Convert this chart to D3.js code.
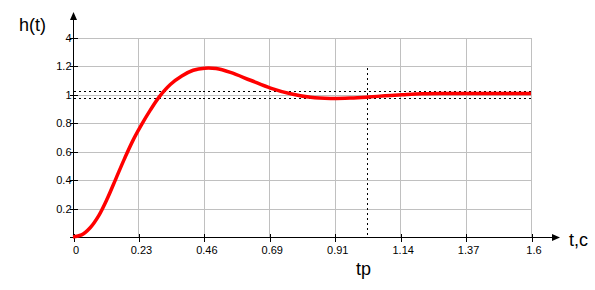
<!DOCTYPE html>
<html lang="en">
<head>
    <meta charset="UTF-8">
    <title>h(t) step response</title>
    <script src="https://d3js.org/d3.v7.min.js"></script>
    <style>
        body, html {
            margin: 0;
            padding: 0;
            overflow: hidden;
            background: #fff;
        }
        svg {
            display: block;
        }
        .tick-label {
            font-family: "Liberation Sans", Arial, sans-serif;
            font-size: 11px;
            fill: #000;
        }
        .title {
            font-family: "Liberation Sans", Arial, sans-serif;
            font-size: 18px;
            fill: #000;
        }
    </style>
</head>
<body>
    <svg width="595" height="290" id="chart"></svg>

    <script>
        // values
        const tValues = [0, 0.03, 0.06, 0.09, 0.12, 0.15, 0.18, 0.21, 0.24, 0.27, 0.30, 0.34, 0.38, 0.42, 0.46, 0.50, 0.55, 0.62, 0.69, 0.76, 0.83, 0.90, 0.97, 1.03, 1.09, 1.15, 1.22, 1.30, 1.6];
        const hValues = [0, 0.015, 0.065, 0.15, 0.27, 0.41, 0.55, 0.68, 0.79, 0.89, 0.98, 1.07, 1.13, 1.17, 1.185, 1.182, 1.155, 1.10, 1.045, 1.005, 0.98, 0.972, 0.975, 0.982, 0.991, 0.998, 1.005, 1.007, 1.007];

        const xTicks = [0, 0.2286, 0.4571, 0.6857, 0.9143, 1.1429, 1.3714, 1.6];
        const xTickLabels = ["0", "0.23", "0.46", "0.69", "0.91", "1.14", "1.37", "1.6"];
        const yTicks = [0, 0.2, 0.4, 0.6, 0.8, 1, 1.2, 1.4];
        const yTickLabels = ["", "0.2", "0.4", "0.6", "0.8", "1", "1.2", "4"];

        const bandLow = 0.975;
        const bandHigh = 1.025;
        const tp = 1.028;
        const tpTop = 1.19;

        const svg = d3.select("#chart");

        const x = d3.scaleLinear().domain([0, 1.6]).range([73, 531]);
        const y = d3.scaleLinear().domain([0, 1.4]).range([237, 37.5]);

        const px = v => Math.round(v) + 0.5;

        // grid
        const grid = svg.append("g")
            .attr("stroke", "#c0c0c0")
            .attr("stroke-width", 1)
            .attr("shape-rendering", "crispEdges");

        grid.selectAll(".vgrid")
            .data(xTicks.slice(1))
            .enter()
            .append("line")
            .attr("x1", d => px(x(d)))
            .attr("x2", d => px(x(d)))
            .attr("y1", px(y(1.4)))
            .attr("y2", px(y(0)));

        grid.selectAll(".hgrid")
            .data(yTicks.slice(1))
            .enter()
            .append("line")
            .attr("x1", px(x(0)))
            .attr("x2", px(x(1.6)))
            .attr("y1", d => px(y(d)))
            .attr("y2", d => px(y(d)));

        // dotted tolerance band and tp marker
        const dots = svg.append("g")
            .attr("stroke", "#000")
            .attr("stroke-width", 1)
            .attr("stroke-dasharray", "2,3")
            .attr("shape-rendering", "crispEdges");

        dots.selectAll(".band")
            .data([bandHigh, bandLow])
            .enter()
            .append("line")
            .attr("x1", px(x(0)))
            .attr("x2", px(x(1.6)))
            .attr("y1", d => px(y(d)))
            .attr("y2", d => px(y(d)));

        dots.append("line")
            .attr("x1", px(x(tp)))
            .attr("x2", px(x(tp)))
            .attr("y1", px(y(tpTop)))
            .attr("y2", px(y(0)));

        // axes
        const xAxis = d3.axisBottom(x)
            .tickValues(xTicks)
            .tickFormat((d, i) => xTickLabels[i])
            .tickSize(4)
            .tickPadding(5);

        const gx = svg.append("g")
            .attr("transform", `translate(0.5, ${px(y(0))})`)
            .call(xAxis);
        gx.select(".domain").remove();
        gx.selectAll(".tick line")
            .attr("y1", -4)
            .attr("y2", 4)
            .attr("stroke", "#000")
            .attr("shape-rendering", "crispEdges");
        gx.selectAll(".tick text")
            .attr("class", "tick-label")
            .attr("dx", "2");
        gx.attr("font-family", null).attr("font-size", null);

        const yAxis = d3.axisLeft(y)
            .tickValues(yTicks)
            .tickFormat((d, i) => yTickLabels[i])
            .tickSize(4)
            .tickPadding(2);

        const gy = svg.append("g")
            .attr("transform", `translate(${px(x(0))}, 0)`)
            .call(yAxis);
        gy.select(".domain").remove();
        gy.selectAll(".tick")
            .attr("transform", d => `translate(0, ${px(y(d))})`);
        gy.selectAll(".tick line")
            .attr("x1", -4)
            .attr("x2", 4)
            .attr("stroke", "#000")
            .attr("shape-rendering", "crispEdges");
        gy.selectAll(".tick text")
            .attr("class", "tick-label")
            .attr("x", -2);
        gy.attr("font-family", null).attr("font-size", null);

        // axis lines with arrows
        const x0 = px(x(0));
        const y0 = px(y(0));
        svg.append("line")
            .attr("x1", x0 - 4).attr("x2", 554)
            .attr("y1", y0).attr("y2", y0)
            .attr("stroke", "#000")
            .attr("shape-rendering", "crispEdges");
        svg.append("path")
            .attr("d", `M560,${y0} L552,${y0 - 3.5} L552,${y0 + 3.5} Z`)
            .attr("fill", "#000");

        svg.append("line")
            .attr("x1", x0).attr("x2", x0)
            .attr("y1", y0).attr("y2", 18)
            .attr("stroke", "#000")
            .attr("shape-rendering", "crispEdges");
        svg.append("path")
            .attr("d", `M${x0},12 L${x0 - 3.5},20 L${x0 + 3.5},20 Z`)
            .attr("fill", "#000");

        // response curve
        const line = d3.line()
            .x(d => x(d[0]))
            .y(d => y(d[1]))
            .curve(d3.curveCatmullRom.alpha(0.5));

        svg.append("path")
            .datum(tValues.map((t, i) => [t, hValues[i]]))
            .attr("d", line)
            .attr("fill", "none")
            .attr("stroke", "#ff0000")
            .attr("stroke-width", 3.5);

        // titles
        svg.append("text").attr("class", "title")
            .attr("x", 19).attr("y", 31)
            .text("h(t)");
        svg.append("text").attr("class", "title")
            .attr("x", 569).attr("y", 246)
            .text("t,c");
        svg.append("text").attr("class", "title")
            .attr("x", 356).attr("y", 275)
            .text("tp");
    </script>
</body>
</html>
